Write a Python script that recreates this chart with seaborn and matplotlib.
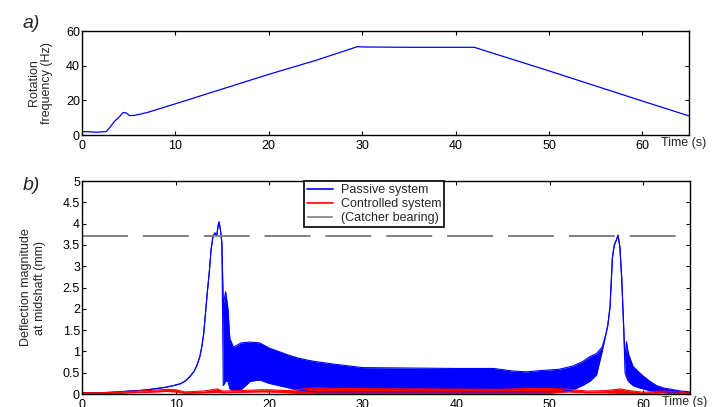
import numpy as np
import pandas as pd
import matplotlib
matplotlib.use("Agg")
import matplotlib.pyplot as plt
from matplotlib.ticker import FormatStrFormatter
import seaborn as sns

# a) rotation frequency
rot_time = [0, 1.0, 1.5, 2.6, 3.0, 3.5, 4.0, 4.4, 4.7, 5.1, 5.6, 7, 10, 15, 20, 25, 29.5, 30, 35, 42, 50, 60, 65]
rot_freq = [2.0, 1.8, 1.6, 2.0, 4.5, 8.0, 10.5, 13.0, 12.8, 11.2, 11.3, 13.0, 18.0, 26.5, 35.0, 43.0, 51.0, 50.8, 50.6, 50.6, 37.0, 19.6, 11.0]

# b) passive system: upper / lower envelope of the oscillating signal
passive_time = [0, 2, 4, 5, 6, 7, 8, 9, 10, 10.5, 11, 11.5, 12, 12.3, 12.6, 12.8, 13.0, 13.2, 13.4, 13.6,
                13.8, 14.0, 14.2, 14.4, 14.55, 14.65, 14.8, 14.95, 15.1, 15.35, 15.6, 15.8, 16.2, 17, 18, 19,
                20, 21, 22, 23, 24, 25, 27, 30, 35, 40, 44, 46, 47.5, 49, 51, 52.5, 53.5, 54.3, 55, 55.6,
                56.0, 56.2, 56.45, 56.7, 56.9, 57.1, 57.3, 57.5, 57.7, 57.9, 58.05, 58.2, 58.4, 58.9, 59.5,
                60, 60.7, 61.4, 62.2, 63, 64, 65]
passive_upper = [0.03, 0.03, 0.05, 0.07, 0.08, 0.10, 0.13, 0.16, 0.21, 0.24, 0.30, 0.40, 0.54, 0.68, 0.88, 1.10,
                 1.40, 1.90, 2.40, 2.85, 3.40, 3.70, 3.78, 3.72, 3.95, 4.04, 3.85, 3.55, 2.10, 2.40, 2.00, 1.30,
                 1.10, 1.20, 1.22, 1.20, 1.08, 1.00, 0.92, 0.85, 0.80, 0.76, 0.70, 0.62, 0.61, 0.60, 0.60, 0.54,
                 0.52, 0.55, 0.58, 0.66, 0.76, 0.88, 0.95, 1.10, 1.40, 1.60, 2.05, 3.20, 3.50, 3.60, 3.73, 3.45,
                 2.70, 1.60, 0.80, 1.23, 0.95, 0.65, 0.52, 0.42, 0.30, 0.20, 0.14, 0.11, 0.07, 0.05]
passive_lower = [0.03, 0.03, 0.05, 0.07, 0.08, 0.10, 0.13, 0.16, 0.21, 0.24, 0.30, 0.40, 0.54, 0.68, 0.88, 1.10,
                 1.40, 1.90, 2.40, 2.85, 3.40, 3.70, 3.78, 3.72, 3.95, 4.04, 3.85, 3.55, 0.20, 0.30, 0.30, 0.12,
                 0.08, 0.10, 0.30, 0.33, 0.25, 0.20, 0.15, 0.10, 0.07, 0.05, 0.05, 0.05, 0.05, 0.05, 0.05, 0.05,
                 0.05, 0.05, 0.05, 0.10, 0.20, 0.30, 0.45, 1.00, 1.40, 1.60, 2.05, 3.20, 3.50, 3.60, 3.73, 3.45,
                 2.70, 1.60, 0.50, 0.40, 0.30, 0.20, 0.15, 0.12, 0.08, 0.06, 0.04, 0.04, 0.03, 0.03]

# b) controlled system envelope
ctrl_time = [0, 2, 4, 5, 7, 9, 10, 11, 13, 14.5, 15, 17, 19, 20, 22, 23, 25, 27, 35, 45, 47.5, 50, 52, 54,
             56, 57.5, 58.5, 60, 62, 63.5, 65]
ctrl_upper = [0.03, 0.03, 0.04, 0.06, 0.08, 0.11, 0.10, 0.05, 0.07, 0.12, 0.07, 0.08, 0.10, 0.10, 0.08, 0.10,
              0.15, 0.13, 0.12, 0.11, 0.13, 0.13, 0.11, 0.07, 0.08, 0.12, 0.08, 0.04, 0.07, 0.05, 0.02]
ctrl_lower = [0.01, 0.01, 0.01, 0.03, 0.04, 0.06, 0.05, 0.02, 0.03, 0.04, 0.03, 0.04, 0.05, 0.05, 0.03, 0.02,
              0.02, 0.01, 0.01, 0.01, 0.01, 0.02, 0.05, 0.03, 0.03, 0.02, 0.02, 0.01, 0.03, 0.01, 0.00]

catcher_time = [0, 64]
catcher_level = [3.7, 3.7]

sns.set_style("ticks")
plt.rcParams['font.family'] = ['Liberation Sans', 'DejaVu Sans']
plt.rcParams['font.size'] = 9

fig = plt.figure(figsize=(7.17, 4.07), dpi=100)
ax1 = fig.add_axes([0.1144, 0.6683, 0.8466, 0.2555])
ax2 = fig.add_axes([0.1144, 0.0319, 0.848, 0.5233])

# top panel
rot = pd.DataFrame({'t': rot_time, 'f': rot_freq})
sns.lineplot(data=rot, x='t', y='f', ax=ax1, color='blue', lw=0.9)
ax1.set_ylim(0, 60)
ax1.set_yticks([0, 20, 40, 60])
ax1.set_ylabel('Rotation\nfrequency (Hz)', fontsize=9)
ax1.yaxis.set_label_coords(-0.047, 0.5)

# bottom panel
ax2.fill_between(passive_time, passive_lower, passive_upper, color='blue', lw=0)
sns.lineplot(x=passive_time, y=passive_upper, ax=ax2, color='blue', lw=0.8, label='Passive system')
sns.lineplot(x=passive_time, y=passive_lower, ax=ax2, color='blue', lw=0.8, label='_nolegend_')
ax2.fill_between(ctrl_time, ctrl_lower, ctrl_upper, color='red', lw=0)
sns.lineplot(x=ctrl_time, y=ctrl_upper, ax=ax2, color='red', lw=0.8, label='Controlled system')
sns.lineplot(x=ctrl_time, y=ctrl_lower, ax=ax2, color='red', lw=0.8, label='_nolegend_')
sns.lineplot(x=catcher_time, y=catcher_level, ax=ax2, color='#808080', lw=1.4,
             dashes=False, label='(Catcher bearing)').lines[-1].set_dashes((23.6, 7.7))
ax2.set_ylim(0, 5)
ax2.set_yticks(np.arange(0, 5.01, 0.5))
ax2.yaxis.set_major_formatter(FormatStrFormatter('%g'))
ax2.set_ylabel('Deflection magnitude\nat midshaft (mm)', fontsize=9)
ax2.yaxis.set_label_coords(-0.059, 0.5)

leg = ax2.legend(loc='upper left', bbox_to_anchor=(0.365, 1.0), borderaxespad=0,
                 fancybox=False, framealpha=1, edgecolor='black', fontsize=9,
                 handlelength=2.1, labelspacing=0.15, borderpad=0.25, handletextpad=0.6)
leg.get_frame().set_linewidth(1.2)
for h in leg.get_lines():
    h.set_linewidth(1.2)

for ax in (ax1, ax2):
    ax.set_xlim(0, 65)
    ax.set_xticks([0, 10, 20, 30, 40, 50, 60])
    ax.set_xlabel('')
    ax.tick_params(direction='in', top=True, right=True, length=3, width=0.8, labelsize=9, colors='black')
    ax.tick_params(axis='y', pad=1.5)
    for s in ax.spines.values():
        s.set_visible(True)
        s.set_linewidth(1.0)
        s.set_color('black')
    ax.annotate('Time (s)', xy=(0.954, 0), xycoords='axes fraction', xytext=(0, -8),
                textcoords='offset pixels', ha='left', va='center', fontsize=9)

fig.text(0.032, 0.942, 'a)', fontsize=14, style='italic', ha='left', va='center')
fig.text(0.032, 0.543, 'b)', fontsize=14, style='italic', ha='left', va='center')

fig.savefig('out.png', dpi=100)
